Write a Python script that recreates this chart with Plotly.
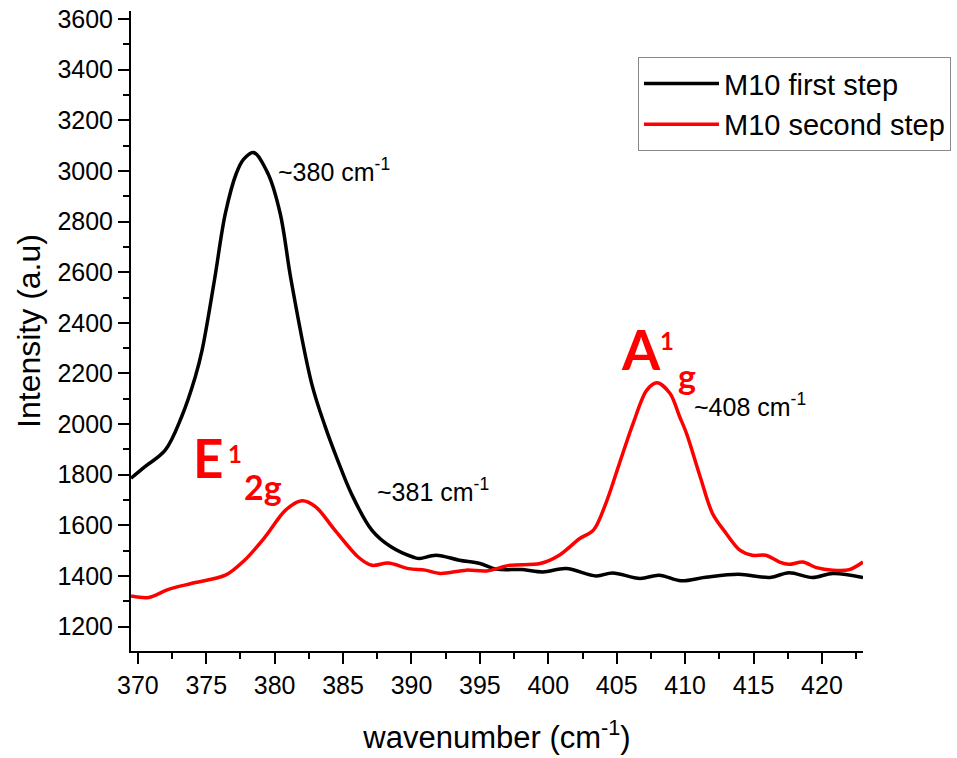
import plotly.graph_objects as go

# ---- data ----
first_x = [369.5, 370.5, 372.0, 373.2, 374.2, 374.7, 375.6, 376.4, 377.2, 377.7, 378.44,
           379.5, 380.4, 381.2, 382.7, 383.7, 384.6, 385.6, 387.1, 388.5, 390.2,
           390.6, 391.8, 393.5, 395.0, 396.2, 398.1, 399.6, 401.3, 403.5, 404.7, 406.7,
           408.1, 409.7, 411.5, 413.9, 416.2, 417.6, 419.3, 420.8, 423.0]
first_y = [1786, 1831, 1897, 2029, 2187, 2293, 2569, 2833, 2991, 3044, 3073,
           2991, 2833, 2569, 2161, 1989, 1858, 1726, 1581, 1515, 1473,
           1469, 1482, 1462, 1449, 1427, 1425, 1416, 1429, 1400, 1412, 1390,
           1403, 1381, 1395, 1407, 1394, 1413, 1394, 1410, 1394]

second_x = [369.5, 370.8, 372.2, 373.9, 376.4, 377.8, 379.3, 380.8, 382.0, 383.0, 384.4,
            386.1, 387.1, 388.3, 389.8, 391.0, 392.1, 394.0, 395.5, 397.2, 399.4, 400.8,
            402.3, 403.3, 404.2, 405.2, 406.2, 407.2, 407.95, 408.9, 409.6, 410.1, 411.1,
            412.0, 413.0, 414.0, 414.9, 415.9, 416.9, 417.6, 418.6, 419.6, 420.8, 422.0, 423.0]
second_y = [1321, 1315, 1346, 1370, 1403, 1462, 1554, 1660, 1697, 1673, 1581,
            1475, 1442, 1451, 1429, 1423, 1410, 1423, 1420, 1442, 1449, 1482,
            1548, 1581, 1686, 1845, 2003, 2134, 2163, 2121, 2029, 1963, 1792,
            1647, 1568, 1502, 1482, 1482, 1455, 1446, 1455, 1433, 1423, 1425, 1455]

series_names = ["M10 first step", "M10 second step"]
x_ticks = [370, 375, 380, 385, 390, 395, 400, 405, 410, 415, 420]
y_ticks = [1200, 1400, 1600, 1800, 2000, 2200, 2400, 2600, 2800, 3000, 3200, 3400, 3600]

FONT = "Liberation Sans, Arial, sans-serif"
BOLD = "Lato, Open Sans, sans-serif"

fig = go.Figure()
fig.add_trace(go.Scatter(x=first_x, y=first_y, mode="lines", name=series_names[0],
                         line=dict(color="black", width=3.5, shape="spline", smoothing=1.0)))
fig.add_trace(go.Scatter(x=second_x, y=second_y, mode="lines", name=series_names[1],
                         line=dict(color="#ff0000", width=3.5, shape="spline", smoothing=0.9)))

axis_common = dict(showline=True, linecolor="black", linewidth=2, ticks="outside",
                   tickwidth=2, tickcolor="black", ticklen=11, showgrid=False,
                   zeroline=False, mirror=False, ticklabeloverflow="allow",
                   tickfont=dict(family=FONT, size=25, color="black"))

fig.update_xaxes(range=[369.5, 423.0], tickvals=x_ticks, ticktext=[str(v) for v in x_ticks],
                 minor=dict(ticks="outside", dtick=2.5, tick0=370, ticklen=6, tickwidth=2, tickcolor="black"),
                 title=dict(text="wavenumber (cm<sup>-1</sup>)", font=dict(family=FONT, size=31, color="black"), standoff=28),
                 **axis_common)
fig.update_yaxes(range=[1103.5, 3632], tickvals=y_ticks, ticktext=[str(v) for v in y_ticks],
                 minor=dict(ticks="outside", dtick=100, tick0=1200, ticklen=6, tickwidth=2, tickcolor="black"),
                 title=dict(text="Intensity (a.u)", font=dict(family=FONT, size=32, color="black"), standoff=7),
                 **axis_common)

anns = [
    dict(x=380.1, y=3004, text="~380 cm<sup>-1</sup>", xanchor="left", yanchor="middle",
         font=dict(family=FONT, size=25, color="black")),
    dict(x=387.3, y=1739, text="~381 cm<sup>-1</sup>", xanchor="left", yanchor="middle",
         font=dict(family=FONT, size=25, color="black")),
    dict(x=410.5, y=2075, text="~408 cm<sup>-1</sup>", xanchor="left", yanchor="middle",
         font=dict(family=FONT, size=25, color="black")),
    dict(x=373.9, y=1867, text="<b>E</b>", xanchor="left", yanchor="middle",
         font=dict(family=BOLD, size=53, color="#ff0000")),
    dict(x=376.45, y=1885, text="<b>1</b>", xanchor="left", yanchor="middle",
         font=dict(family=BOLD, size=24, color="#ff0000")),
    dict(x=377.6, y=1755, text="<b>2g</b>", xanchor="left", yanchor="middle",
         font=dict(family=BOLD, size=34, color="#ff0000")),
    dict(x=405.2, y=2295, text="<b>A</b>", xanchor="left", yanchor="middle",
         font=dict(family=BOLD, size=55, color="#ff0000")),
    dict(x=408.05, y=2330, text="<b>1</b>", xanchor="left", yanchor="middle",
         font=dict(family=BOLD, size=24, color="#ff0000")),
    dict(x=409.35, y=2190, text="<b>g</b>", xanchor="left", yanchor="middle",
         font=dict(family=BOLD, size=34, color="#ff0000")),
]
for a in anns:
    a.update(xref="x", yref="y", showarrow=False)
    fig.add_annotation(**a)

fig.update_layout(
    width=957, height=758,
    margin=dict(l=131, r=94, t=11, b=107, autoexpand=False),
    paper_bgcolor="white", plot_bgcolor="white",
    showlegend=True,
    legend=dict(x=0.6926, y=0.928, xanchor="left", yanchor="top",
                bordercolor="#888888", borderwidth=1, bgcolor="white",
                font=dict(family=FONT, size=29, color="black"),
                tracegroupgap=0, itemwidth=75),
)

# remove the default 8px page margin so the figure fills the window exactly
fig.write_html("out.html", config={"displayModeBar": False},
               post_script="document.body.style.margin='0';")
